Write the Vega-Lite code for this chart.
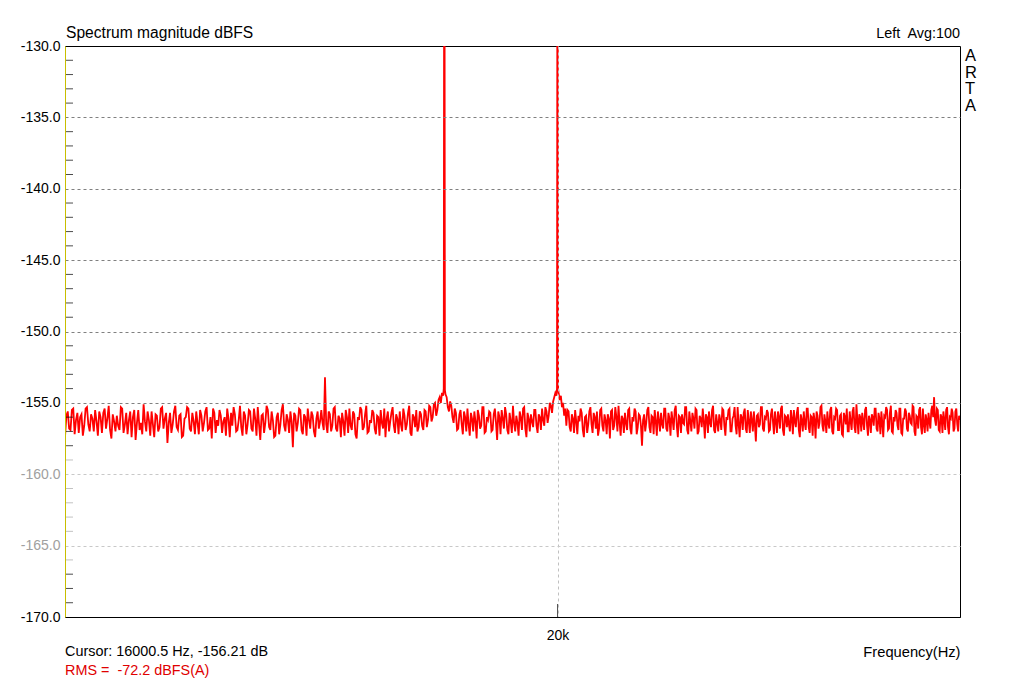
{
"$schema": "https://vega.github.io/schema/vega-lite/v6.json",
"width": 895, "height": 571,
"autosize": "none",
"padding": {"left": 65, "top": 46, "right": 64, "bottom": 63},
"background": "white",
"config": {"view": {"stroke": "black", "strokeWidth": 1}, "font": "Liberation Sans"},
"datasets": {
"spec": [
{"f":16000,"d":-157.4},{"f":16010,"d":-155.9},{"f":16020,"d":-155.6},{"f":16030,"d":-156.8},{"f":16040,"d":-156.9},{"f":16050,"d":-155.5},{"f":16060,"d":-155.4},{"f":16070,"d":-157.2},{"f":16080,"d":-156.2},{"f":16090,"d":-155.7},
{"f":16100,"d":-157.1},{"f":16110,"d":-156.0},{"f":16120,"d":-155.8},{"f":16130,"d":-157.3},{"f":16140,"d":-156.6},{"f":16150,"d":-155.4},{"f":16160,"d":-155.3},{"f":16170,"d":-156.5},{"f":16180,"d":-157.0},{"f":16190,"d":-155.8},
{"f":16200,"d":-156.1},{"f":16210,"d":-157.0},{"f":16220,"d":-155.5},{"f":16230,"d":-156.3},{"f":16240,"d":-157.3},{"f":16250,"d":-155.6},{"f":16260,"d":-156.0},{"f":16270,"d":-157.1},{"f":16280,"d":-155.7},{"f":16290,"d":-155.4},
{"f":16300,"d":-156.8},{"f":16310,"d":-156.1},{"f":16320,"d":-155.2},{"f":16330,"d":-156.9},{"f":16340,"d":-157.5},{"f":16350,"d":-155.8},{"f":16360,"d":-156.3},{"f":16370,"d":-157.0},{"f":16380,"d":-155.9},{"f":16390,"d":-156.6},
{"f":16400,"d":-156.9},{"f":16410,"d":-155.3},{"f":16420,"d":-155.4},{"f":16430,"d":-157.1},{"f":16440,"d":-156.5},{"f":16450,"d":-155.7},{"f":16460,"d":-157.2},{"f":16470,"d":-156.2},{"f":16480,"d":-155.6},{"f":16490,"d":-157.4},
{"f":16500,"d":-156.0},{"f":16510,"d":-155.5},{"f":16520,"d":-157.6},{"f":16530,"d":-156.4},{"f":16540,"d":-155.5},{"f":16550,"d":-156.9},{"f":16560,"d":-156.4},{"f":16570,"d":-157.2},{"f":16580,"d":-155.1},{"f":16590,"d":-156.3},
{"f":16600,"d":-157.0},{"f":16610,"d":-155.6},{"f":16620,"d":-156.2},{"f":16630,"d":-157.3},{"f":16640,"d":-155.6},{"f":16650,"d":-156.5},{"f":16660,"d":-157.4},{"f":16670,"d":-155.8},{"f":16680,"d":-155.9},{"f":16690,"d":-157.0},
{"f":16700,"d":-156.7},{"f":16710,"d":-155.4},{"f":16720,"d":-155.3},{"f":16730,"d":-156.8},{"f":16740,"d":-156.1},{"f":16750,"d":-155.7},{"f":16760,"d":-157.8},{"f":16770,"d":-156.4},{"f":16780,"d":-155.7},{"f":16790,"d":-157.1},
{"f":16800,"d":-156.5},{"f":16810,"d":-155.6},{"f":16820,"d":-155.2},{"f":16830,"d":-156.7},{"f":16840,"d":-156.9},{"f":16850,"d":-155.9},{"f":16860,"d":-155.8},{"f":16870,"d":-157.4},{"f":16880,"d":-157.3},{"f":16890,"d":-156.1},
{"f":16900,"d":-156.0},{"f":16910,"d":-155.3},{"f":16920,"d":-155.4},{"f":16930,"d":-156.8},{"f":16940,"d":-157.0},{"f":16950,"d":-155.7},{"f":16960,"d":-156.3},{"f":16970,"d":-157.2},{"f":16980,"d":-155.6},{"f":16990,"d":-156.4},
{"f":17000,"d":-157.2},{"f":17010,"d":-155.5},{"f":17020,"d":-155.9},{"f":17030,"d":-157.0},{"f":17040,"d":-156.4},{"f":17050,"d":-155.6},{"f":17060,"d":-155.3},{"f":17070,"d":-156.9},{"f":17080,"d":-156.8},{"f":17090,"d":-156.0},
{"f":17100,"d":-157.5},{"f":17110,"d":-155.4},{"f":17120,"d":-155.7},{"f":17130,"d":-157.1},{"f":17140,"d":-156.2},{"f":17150,"d":-156.6},{"f":17160,"d":-155.5},{"f":17170,"d":-155.9},{"f":17180,"d":-157.1},{"f":17190,"d":-156.3},
{"f":17200,"d":-156.0},{"f":17210,"d":-157.3},{"f":17220,"d":-155.4},{"f":17230,"d":-156.1},{"f":17240,"d":-157.4},{"f":17250,"d":-155.7},{"f":17260,"d":-156.6},{"f":17270,"d":-155.3},{"f":17280,"d":-155.8},{"f":17290,"d":-157.0},
{"f":17300,"d":-156.9},{"f":17310,"d":-156.2},{"f":17320,"d":-155.2},{"f":17330,"d":-156.7},{"f":17340,"d":-157.3},{"f":17350,"d":-155.6},{"f":17360,"d":-155.9},{"f":17370,"d":-157.2},{"f":17380,"d":-156.5},{"f":17390,"d":-155.5},
{"f":17400,"d":-155.6},{"f":17410,"d":-156.8},{"f":17420,"d":-157.0},{"f":17430,"d":-155.4},{"f":17440,"d":-156.1},{"f":17450,"d":-157.3},{"f":17460,"d":-155.3},{"f":17470,"d":-156.5},{"f":17480,"d":-157.6},{"f":17490,"d":-155.9},
{"f":17500,"d":-155.8},{"f":17510,"d":-157.1},{"f":17520,"d":-156.4},{"f":17530,"d":-155.2},{"f":17540,"d":-155.5},{"f":17550,"d":-156.7},{"f":17560,"d":-156.9},{"f":17570,"d":-155.6},{"f":17580,"d":-156.2},{"f":17590,"d":-157.4},
{"f":17600,"d":-157.3},{"f":17610,"d":-156.0},{"f":17620,"d":-155.7},{"f":17630,"d":-157.2},{"f":17640,"d":-156.5},{"f":17650,"d":-155.5},{"f":17660,"d":-155.1},{"f":17670,"d":-156.6},{"f":17680,"d":-157.0},{"f":17690,"d":-155.8},
{"f":17700,"d":-156.2},{"f":17710,"d":-157.1},{"f":17720,"d":-155.6},{"f":17730,"d":-156.3},{"f":17740,"d":-158.1},{"f":17750,"d":-155.7},{"f":17760,"d":-155.9},{"f":17770,"d":-157.0},{"f":17780,"d":-156.4},{"f":17790,"d":-155.4},
{"f":17800,"d":-155.5},{"f":17810,"d":-156.9},{"f":17820,"d":-157.2},{"f":17830,"d":-155.8},{"f":17840,"d":-156.0},{"f":17850,"d":-157.3},{"f":17860,"d":-155.4},{"f":17870,"d":-156.2},{"f":17880,"d":-156.8},{"f":17890,"d":-155.6},
{"f":17900,"d":-155.9},{"f":17910,"d":-157.0},{"f":17920,"d":-157.4},{"f":17930,"d":-156.1},{"f":17940,"d":-155.6},{"f":17950,"d":-156.8},{"f":17960,"d":-156.3},{"f":17970,"d":-155.5},{"f":17980,"d":-156.4},{"f":17990,"d":-156.9},
{"f":18000,"d":-153.2},{"f":18010,"d":-156.5},{"f":18020,"d":-157.1},{"f":18030,"d":-155.6},{"f":18040,"d":-155.8},{"f":18050,"d":-157.0},{"f":18060,"d":-156.6},{"f":18070,"d":-155.4},{"f":18080,"d":-155.3},{"f":18090,"d":-156.8},
{"f":18100,"d":-157.0},{"f":18110,"d":-155.9},{"f":18120,"d":-156.1},{"f":18130,"d":-157.4},{"f":18140,"d":-155.7},{"f":18150,"d":-156.3},{"f":18160,"d":-157.3},{"f":18170,"d":-155.5},{"f":18180,"d":-156.0},{"f":18190,"d":-157.1},
{"f":18200,"d":-155.4},{"f":18210,"d":-156.6},{"f":18220,"d":-156.9},{"f":18230,"d":-155.6},{"f":18240,"d":-155.8},{"f":18250,"d":-157.2},{"f":18260,"d":-157.5},{"f":18270,"d":-156.0},{"f":18280,"d":-156.2},{"f":18290,"d":-155.3},
{"f":18300,"d":-155.5},{"f":18310,"d":-156.9},{"f":18320,"d":-156.7},{"f":18330,"d":-155.8},{"f":18340,"d":-155.2},{"f":18350,"d":-157.1},{"f":18360,"d":-157.0},{"f":18370,"d":-156.2},{"f":18380,"d":-156.4},{"f":18390,"d":-155.5},
{"f":18400,"d":-155.7},{"f":18410,"d":-156.8},{"f":18420,"d":-157.2},{"f":18430,"d":-155.9},{"f":18440,"d":-156.0},{"f":18450,"d":-157.3},{"f":18460,"d":-155.5},{"f":18470,"d":-156.4},{"f":18480,"d":-156.8},{"f":18490,"d":-155.4},
{"f":18500,"d":-157.4},{"f":18510,"d":-156.1},{"f":18520,"d":-155.6},{"f":18530,"d":-157.0},{"f":18540,"d":-156.3},{"f":18550,"d":-155.7},{"f":18560,"d":-155.3},{"f":18570,"d":-156.6},{"f":18580,"d":-157.1},{"f":18590,"d":-155.8},
{"f":18600,"d":-156.1},{"f":18610,"d":-157.2},{"f":18620,"d":-155.6},{"f":18630,"d":-156.5},{"f":18640,"d":-157.0},{"f":18650,"d":-155.4},{"f":18660,"d":-155.9},{"f":18670,"d":-156.9},{"f":18680,"d":-156.5},{"f":18690,"d":-155.7},
{"f":18700,"d":-155.2},{"f":18710,"d":-157.1},{"f":18720,"d":-157.3},{"f":18730,"d":-155.8},{"f":18740,"d":-156.0},{"f":18750,"d":-156.7},{"f":18760,"d":-155.5},{"f":18770,"d":-157.0},{"f":18780,"d":-156.7},{"f":18790,"d":-155.6},
{"f":18800,"d":-155.8},{"f":18810,"d":-156.6},{"f":18820,"d":-156.9},{"f":18830,"d":-155.5},{"f":18840,"d":-155.6},{"f":18850,"d":-156.7},{"f":18860,"d":-156.2},{"f":18870,"d":-155.2},{"f":18880,"d":-155.3},{"f":18890,"d":-156.3},
{"f":18900,"d":-156.0},{"f":18910,"d":-155.1},{"f":18920,"d":-155.0},{"f":18930,"d":-155.9},{"f":18940,"d":-155.5},{"f":18950,"d":-154.8},{"f":18960,"d":-154.6},{"f":18970,"d":-155.0},{"f":18980,"d":-154.3},{"f":18990,"d":-154.5},
{"f":18995,"d":-154.0},{"f":19000,"d":-108.0},{"f":19005,"d":-154.1},
{"f":19010,"d":-154.4},{"f":19020,"d":-154.6},{"f":19030,"d":-155.3},{"f":19040,"d":-155.6},{"f":19050,"d":-154.9},{"f":19060,"d":-155.2},{"f":19070,"d":-156.0},{"f":19080,"d":-156.4},{"f":19090,"d":-155.4},
{"f":19100,"d":-155.7},{"f":19110,"d":-156.9},{"f":19120,"d":-156.8},{"f":19130,"d":-155.8},{"f":19140,"d":-155.5},{"f":19150,"d":-156.5},{"f":19160,"d":-157.2},{"f":19170,"d":-155.6},{"f":19180,"d":-156.0},{"f":19190,"d":-157.0},
{"f":19200,"d":-155.4},{"f":19210,"d":-156.5},{"f":19220,"d":-157.3},{"f":19230,"d":-155.7},{"f":19240,"d":-156.1},{"f":19250,"d":-157.0},{"f":19260,"d":-155.6},{"f":19270,"d":-156.3},{"f":19280,"d":-157.5},{"f":19290,"d":-155.5},
{"f":19300,"d":-155.9},{"f":19310,"d":-156.8},{"f":19320,"d":-156.6},{"f":19330,"d":-155.3},{"f":19340,"d":-155.3},{"f":19350,"d":-157.1},{"f":19360,"d":-157.0},{"f":19370,"d":-156.0},{"f":19380,"d":-156.2},{"f":19390,"d":-155.6},
{"f":19400,"d":-155.7},{"f":19410,"d":-157.0},{"f":19420,"d":-156.9},{"f":19430,"d":-155.8},{"f":19440,"d":-155.4},{"f":19450,"d":-156.4},{"f":19460,"d":-157.6},{"f":19470,"d":-155.6},{"f":19480,"d":-156.0},{"f":19490,"d":-157.2},
{"f":19500,"d":-155.5},{"f":19510,"d":-156.1},{"f":19520,"d":-156.8},{"f":19530,"d":-155.3},{"f":19540,"d":-155.8},{"f":19550,"d":-156.9},{"f":19560,"d":-157.2},{"f":19570,"d":-155.7},{"f":19580,"d":-156.3},{"f":19590,"d":-157.1},
{"f":19600,"d":-155.2},{"f":19610,"d":-156.4},{"f":19620,"d":-157.0},{"f":19630,"d":-155.9},{"f":19640,"d":-156.4},{"f":19650,"d":-157.3},{"f":19660,"d":-155.6},{"f":19670,"d":-156.0},{"f":19680,"d":-156.9},{"f":19690,"d":-155.4},
{"f":19700,"d":-155.3},{"f":19710,"d":-156.8},{"f":19720,"d":-157.4},{"f":19730,"d":-155.7},{"f":19740,"d":-156.1},{"f":19750,"d":-157.0},{"f":19760,"d":-155.8},{"f":19770,"d":-156.3},{"f":19780,"d":-156.7},{"f":19790,"d":-155.5},
{"f":19800,"d":-155.5},{"f":19810,"d":-156.6},{"f":19820,"d":-157.1},{"f":19830,"d":-155.8},{"f":19840,"d":-156.0},{"f":19850,"d":-156.9},{"f":19860,"d":-155.4},{"f":19870,"d":-156.2},{"f":19880,"d":-156.6},{"f":19890,"d":-155.3},
{"f":19900,"d":-155.6},{"f":19910,"d":-156.4},{"f":19920,"d":-155.9},{"f":19930,"d":-155.0},{"f":19940,"d":-155.2},{"f":19950,"d":-155.7},{"f":19960,"d":-154.9},{"f":19970,"d":-154.6},{"f":19980,"d":-154.3},{"f":19990,"d":-154.5},
{"f":19995,"d":-154.0},{"f":20000,"d":-108.0},{"f":20005,"d":-154.0},
{"f":20010,"d":-154.3},{"f":20020,"d":-154.8},{"f":20030,"d":-154.5},{"f":20040,"d":-155.3},{"f":20050,"d":-155.0},{"f":20060,"d":-155.9},{"f":20070,"d":-155.4},{"f":20080,"d":-156.6},{"f":20090,"d":-155.5},
{"f":20100,"d":-155.6},{"f":20110,"d":-156.7},{"f":20120,"d":-157.0},{"f":20130,"d":-155.8},{"f":20140,"d":-156.1},{"f":20150,"d":-157.1},{"f":20160,"d":-155.5},{"f":20170,"d":-156.3},{"f":20180,"d":-157.2},{"f":20190,"d":-155.9},
{"f":20200,"d":-156.3},{"f":20210,"d":-155.4},{"f":20220,"d":-155.7},{"f":20230,"d":-156.9},{"f":20240,"d":-157.4},{"f":20250,"d":-156.0},{"f":20260,"d":-155.9},{"f":20270,"d":-157.1},{"f":20280,"d":-156.5},{"f":20290,"d":-155.6},
{"f":20300,"d":-155.3},{"f":20310,"d":-156.5},{"f":20320,"d":-157.1},{"f":20330,"d":-155.7},{"f":20340,"d":-156.0},{"f":20350,"d":-156.8},{"f":20360,"d":-155.6},{"f":20370,"d":-157.3},{"f":20380,"d":-156.8},{"f":20390,"d":-155.5},
{"f":20400,"d":-155.4},{"f":20410,"d":-156.6},{"f":20420,"d":-157.0},{"f":20430,"d":-155.8},{"f":20440,"d":-156.2},{"f":20450,"d":-157.2},{"f":20460,"d":-155.8},{"f":20470,"d":-156.1},{"f":20480,"d":-157.5},{"f":20490,"d":-155.6},
{"f":20500,"d":-155.5},{"f":20510,"d":-156.9},{"f":20520,"d":-156.6},{"f":20530,"d":-155.3},{"f":20540,"d":-156.0},{"f":20550,"d":-157.0},{"f":20560,"d":-155.2},{"f":20570,"d":-156.4},{"f":20580,"d":-157.3},{"f":20590,"d":-155.9},
{"f":20600,"d":-156.1},{"f":20610,"d":-157.1},{"f":20620,"d":-155.7},{"f":20630,"d":-156.4},{"f":20640,"d":-156.9},{"f":20650,"d":-155.5},{"f":20660,"d":-155.4},{"f":20670,"d":-156.8},{"f":20680,"d":-157.2},{"f":20690,"d":-156.0},
{"f":20700,"d":-156.3},{"f":20710,"d":-155.4},{"f":20720,"d":-155.6},{"f":20730,"d":-157.2},{"f":20740,"d":-156.7},{"f":20750,"d":-155.8},{"f":20760,"d":-155.9},{"f":20770,"d":-156.6},{"f":20780,"d":-158.0},{"f":20790,"d":-156.2},
{"f":20800,"d":-155.8},{"f":20810,"d":-157.0},{"f":20820,"d":-156.4},{"f":20830,"d":-155.5},{"f":20840,"d":-155.3},{"f":20850,"d":-156.7},{"f":20860,"d":-157.1},{"f":20870,"d":-155.9},{"f":20880,"d":-156.0},{"f":20890,"d":-157.2},
{"f":20900,"d":-155.5},{"f":20910,"d":-156.3},{"f":20920,"d":-157.3},{"f":20930,"d":-155.6},{"f":20940,"d":-156.2},{"f":20950,"d":-157.0},{"f":20960,"d":-155.7},{"f":20970,"d":-156.5},{"f":20980,"d":-156.8},{"f":20990,"d":-155.4},
{"f":21000,"d":-155.4},{"f":21010,"d":-156.8},{"f":21020,"d":-157.0},{"f":21030,"d":-155.7},{"f":21040,"d":-156.1},{"f":21050,"d":-157.3},{"f":21060,"d":-155.6},{"f":21070,"d":-156.2},{"f":21080,"d":-156.9},{"f":21090,"d":-155.5},
{"f":21100,"d":-155.2},{"f":21110,"d":-156.6},{"f":21120,"d":-157.4},{"f":21130,"d":-155.9},{"f":21140,"d":-156.0},{"f":21150,"d":-157.1},{"f":21160,"d":-155.8},{"f":21170,"d":-156.4},{"f":21180,"d":-156.5},{"f":21190,"d":-155.3},
{"f":21200,"d":-155.3},{"f":21210,"d":-156.9},{"f":21220,"d":-157.2},{"f":21230,"d":-155.6},{"f":21240,"d":-156.3},{"f":21250,"d":-157.0},{"f":21260,"d":-155.7},{"f":21270,"d":-156.1},{"f":21280,"d":-156.8},{"f":21290,"d":-155.4},
{"f":21300,"d":-155.5},{"f":21310,"d":-157.2},{"f":21320,"d":-157.0},{"f":21330,"d":-155.9},{"f":21340,"d":-156.1},{"f":21350,"d":-156.7},{"f":21360,"d":-155.4},{"f":21370,"d":-156.3},{"f":21380,"d":-157.5},{"f":21390,"d":-155.8},
{"f":21400,"d":-156.0},{"f":21410,"d":-157.1},{"f":21420,"d":-155.6},{"f":21430,"d":-156.4},{"f":21440,"d":-156.7},{"f":21450,"d":-155.5},{"f":21460,"d":-155.2},{"f":21470,"d":-156.9},{"f":21480,"d":-157.1},{"f":21490,"d":-155.8},
{"f":21500,"d":-156.4},{"f":21510,"d":-157.0},{"f":21520,"d":-155.8},{"f":21530,"d":-156.2},{"f":21540,"d":-156.9},{"f":21550,"d":-155.4},{"f":21560,"d":-155.5},{"f":21570,"d":-156.6},{"f":21580,"d":-157.3},{"f":21590,"d":-156.0},
{"f":21600,"d":-156.2},{"f":21610,"d":-155.5},{"f":21620,"d":-155.4},{"f":21630,"d":-157.0},{"f":21640,"d":-157.0},{"f":21650,"d":-156.1},{"f":21660,"d":-155.9},{"f":21670,"d":-155.3},{"f":21680,"d":-156.6},{"f":21690,"d":-157.2},
{"f":21700,"d":-155.3},{"f":21710,"d":-156.5},{"f":21720,"d":-157.4},{"f":21730,"d":-155.8},{"f":21740,"d":-156.0},{"f":21750,"d":-156.9},{"f":21760,"d":-155.7},{"f":21770,"d":-155.4},{"f":21780,"d":-156.8},{"f":21790,"d":-157.1},
{"f":21800,"d":-155.5},{"f":21810,"d":-156.3},{"f":21820,"d":-157.1},{"f":21830,"d":-155.6},{"f":21840,"d":-156.2},{"f":21850,"d":-157.0},{"f":21860,"d":-155.6},{"f":21870,"d":-156.5},{"f":21880,"d":-157.7},{"f":21890,"d":-155.9},
{"f":21900,"d":-155.8},{"f":21910,"d":-156.7},{"f":21920,"d":-156.5},{"f":21930,"d":-155.3},{"f":21940,"d":-155.3},{"f":21950,"d":-156.8},{"f":21960,"d":-157.0},{"f":21970,"d":-156.0},{"f":21980,"d":-156.1},{"f":21990,"d":-155.5},
{"f":22000,"d":-155.7},{"f":22010,"d":-157.0},{"f":22020,"d":-156.9},{"f":22030,"d":-155.8},{"f":22040,"d":-155.4},{"f":22050,"d":-156.3},{"f":22060,"d":-157.2},{"f":22070,"d":-155.6},{"f":22080,"d":-156.3},{"f":22090,"d":-157.1},
{"f":22100,"d":-155.6},{"f":22110,"d":-156.0},{"f":22120,"d":-156.8},{"f":22130,"d":-155.4},{"f":22140,"d":-155.2},{"f":22150,"d":-156.9},{"f":22160,"d":-157.3},{"f":22170,"d":-155.9},{"f":22180,"d":-156.0},{"f":22190,"d":-156.7},
{"f":22200,"d":-155.8},{"f":22210,"d":-156.5},{"f":22220,"d":-157.0},{"f":22230,"d":-155.5},{"f":22240,"d":-156.1},{"f":22250,"d":-157.2},{"f":22260,"d":-155.5},{"f":22270,"d":-156.3},{"f":22280,"d":-156.7},{"f":22290,"d":-155.7},
{"f":22300,"d":-155.3},{"f":22310,"d":-156.9},{"f":22320,"d":-157.4},{"f":22330,"d":-155.8},{"f":22340,"d":-156.2},{"f":22350,"d":-157.0},{"f":22360,"d":-155.6},{"f":22370,"d":-156.4},{"f":22380,"d":-156.9},{"f":22390,"d":-155.4},
{"f":22400,"d":-155.4},{"f":22410,"d":-156.7},{"f":22420,"d":-157.1},{"f":22430,"d":-155.9},{"f":22440,"d":-156.0},{"f":22450,"d":-157.3},{"f":22460,"d":-155.7},{"f":22470,"d":-156.2},{"f":22480,"d":-157.5},{"f":22490,"d":-155.6},
{"f":22500,"d":-155.9},{"f":22510,"d":-156.8},{"f":22520,"d":-156.4},{"f":22530,"d":-155.3},{"f":22540,"d":-155.2},{"f":22550,"d":-156.6},{"f":22560,"d":-157.0},{"f":22570,"d":-155.8},{"f":22580,"d":-156.3},{"f":22590,"d":-157.1},
{"f":22600,"d":-155.6},{"f":22610,"d":-156.4},{"f":22620,"d":-156.8},{"f":22630,"d":-155.5},{"f":22640,"d":-155.3},{"f":22650,"d":-157.0},{"f":22660,"d":-157.2},{"f":22670,"d":-156.0},{"f":22680,"d":-156.1},{"f":22690,"d":-155.4},
{"f":22700,"d":-155.5},{"f":22710,"d":-156.9},{"f":22720,"d":-156.9},{"f":22730,"d":-155.9},{"f":22740,"d":-155.8},{"f":22750,"d":-157.2},{"f":22760,"d":-157.3},{"f":22770,"d":-155.7},{"f":22780,"d":-156.0},{"f":22790,"d":-156.5},
{"f":22800,"d":-155.4},{"f":22810,"d":-157.0},{"f":22820,"d":-157.0},{"f":22830,"d":-155.6},{"f":22840,"d":-156.3},{"f":22850,"d":-156.9},{"f":22860,"d":-155.6},{"f":22870,"d":-155.3},{"f":22880,"d":-156.7},{"f":22890,"d":-157.1},
{"f":22900,"d":-155.1},{"f":22910,"d":-156.2},{"f":22920,"d":-157.2},{"f":22930,"d":-155.8},{"f":22940,"d":-156.0},{"f":22950,"d":-157.0},{"f":22960,"d":-155.7},{"f":22970,"d":-156.3},{"f":22980,"d":-156.9},{"f":22990,"d":-155.5},
{"f":23000,"d":-155.3},{"f":23010,"d":-156.6},{"f":23020,"d":-157.3},{"f":23030,"d":-155.9},{"f":23040,"d":-156.2},{"f":23050,"d":-157.1},{"f":23060,"d":-155.8},{"f":23070,"d":-156.0},{"f":23080,"d":-156.6},{"f":23090,"d":-155.4},
{"f":23100,"d":-155.4},{"f":23110,"d":-156.8},{"f":23120,"d":-157.0},{"f":23130,"d":-155.7},{"f":23140,"d":-156.1},{"f":23150,"d":-157.2},{"f":23160,"d":-155.6},{"f":23170,"d":-156.4},{"f":23180,"d":-157.4},{"f":23190,"d":-155.9},
{"f":23200,"d":-156.0},{"f":23210,"d":-155.3},{"f":23220,"d":-155.5},{"f":23230,"d":-156.9},{"f":23240,"d":-156.8},{"f":23250,"d":-155.7},{"f":23260,"d":-155.2},{"f":23270,"d":-157.0},{"f":23280,"d":-157.1},{"f":23290,"d":-156.0},
{"f":23300,"d":-156.3},{"f":23310,"d":-155.5},{"f":23320,"d":-155.7},{"f":23330,"d":-156.6},{"f":23340,"d":-156.9},{"f":23350,"d":-155.4},{"f":23360,"d":-155.4},{"f":23370,"d":-157.1},{"f":23380,"d":-157.2},{"f":23390,"d":-156.1},
{"f":23400,"d":-156.1},{"f":23410,"d":-155.4},{"f":23420,"d":-155.6},{"f":23430,"d":-156.8},{"f":23440,"d":-157.0},{"f":23450,"d":-155.7},{"f":23460,"d":-155.9},{"f":23470,"d":-156.4},{"f":23480,"d":-156.5},{"f":23490,"d":-155.2},
{"f":23500,"d":-155.3},{"f":23510,"d":-157.0},{"f":23520,"d":-157.3},{"f":23530,"d":-155.9},{"f":23540,"d":-156.0},{"f":23550,"d":-156.8},{"f":23560,"d":-155.5},{"f":23570,"d":-155.3},{"f":23580,"d":-156.7},{"f":23590,"d":-157.2},
{"f":23600,"d":-155.4},{"f":23610,"d":-156.5},{"f":23620,"d":-157.1},{"f":23630,"d":-155.8},{"f":23640,"d":-156.2},{"f":23650,"d":-157.0},{"f":23660,"d":-155.7},{"f":23670,"d":-156.3},{"f":23680,"d":-156.8},{"f":23690,"d":-155.5},
{"f":23700,"d":-155.2},{"f":23710,"d":-156.0},{"f":23720,"d":-154.6},{"f":23730,"d":-156.2},{"f":23740,"d":-156.6},{"f":23750,"d":-155.4},{"f":23760,"d":-155.5},{"f":23770,"d":-156.9},{"f":23780,"d":-157.0},{"f":23790,"d":-155.8},
{"f":23800,"d":-156.0},{"f":23810,"d":-157.1},{"f":23820,"d":-155.6},{"f":23830,"d":-156.2},{"f":23840,"d":-156.9},{"f":23850,"d":-155.5},{"f":23860,"d":-155.3},{"f":23870,"d":-156.7},{"f":23880,"d":-157.2},{"f":23890,"d":-156.0},
{"f":23900,"d":-156.1},{"f":23910,"d":-155.4},{"f":23920,"d":-155.7},{"f":23930,"d":-157.0},{"f":23940,"d":-156.8},{"f":23950,"d":-155.6},{"f":23960,"d":-155.4},{"f":23970,"d":-156.5},{"f":23980,"d":-157.0},{"f":23990,"d":-155.9},
{"f":24000,"d":-156.2}
],
"minor": [
{"v":-169},{"v":-168},{"v":-167},{"v":-166},{"v":-164},{"v":-163},{"v":-162},{"v":-161},{"v":-159},{"v":-158},{"v":-157},{"v":-156},{"v":-154},{"v":-153},{"v":-152},{"v":-151},{"v":-149},{"v":-148},{"v":-147},{"v":-146},{"v":-144},{"v":-143},{"v":-142},{"v":-141},{"v":-139},{"v":-138},{"v":-137},{"v":-136},{"v":-134},{"v":-133},{"v":-132},{"v":-131}
]
},
"layer": [
{
"data": {"name": "spec"},
"mark": {"type": "line", "color": "#ff0000", "strokeWidth": 1.8, "clip": true},
"encoding": {
"x": {"field": "f", "type": "quantitative",
"scale": {"type": "log", "domain": [16000, 24000], "nice": false, "zero": false},
"axis": {"values": [20000], "labelExpr": "'20k'", "ticks": false, "grid": true, "gridColor": "#c0c0c0", "gridDash": [3, 3], "domainColor": "black", "domainWidth": 1, "labelFont": "Liberation Sans", "labelFontSize": 14, "labelColor": "black", "labelPadding": 11, "labelFlush": false, "title": "Frequency(Hz)", "titleX": 895, "titleY": 39, "titleAlign": "right", "titleAnchor": "end", "titleBaseline": "alphabetic", "titleFont": "Liberation Sans", "titleFontWeight": "normal", "titleFontSize": 14.7, "titleColor": "black", "zindex": 1}},
"y": {"field": "d", "type": "quantitative",
"scale": {"domain": [-170, -130], "nice": false, "zero": false},
"axis": {"values": [-170, -165, -160, -155, -150, -145, -140, -135, -130], "labelExpr": "'-' + format(-datum.value, '.1f')", "ticks": false, "grid": true, "gridDash": [3, 3],
"gridColor": {"condition": {"test": "datum.value <= -160", "value": "#c8c8c8"}, "value": "#808080"},
"gridOpacity": {"condition": {"test": "datum.value == -130 || datum.value == -170", "value": 0}, "value": 1},
"labelColor": {"condition": {"test": "datum.value == -160 || datum.value == -165", "value": "#a0a0a0"}, "value": "black"},
"domainColor": "#c8be00", "domainWidth": 1, "labelFont": "Liberation Sans", "labelFontSize": 14, "labelPadding": 5, "labelFlush": false, "title": null, "zindex": 1}}
}
},
{
"data": {"name": "minor"},
"mark": {"type": "tick", "orient": "horizontal", "size": 16, "thickness": 1, "clip": true},
"encoding": {
"x": {"datum": 16000, "type": "quantitative"},
"y": {"field": "v", "type": "quantitative"},
"color": {"condition": {"test": "datum.v <= -159 && datum.v >= -166", "value": "#a8a8a8"}, "value": "black"}
}
},
{
"data": {"values": [{}]},
"mark": {"type": "tick", "orient": "vertical", "size": 26, "thickness": 1, "clip": true, "color": "black"},
"encoding": {"x": {"datum": 20000, "type": "quantitative"}, "y": {"datum": -170, "type": "quantitative"}}
},
{
"data": {"values": [{}]},
"mark": {"type": "text", "text": "Spectrum magnitude dBFS", "align": "left", "baseline": "alphabetic", "dx": 1, "dy": -8, "font": "Liberation Sans", "fontSize": 15.6, "color": "black"},
"encoding": {"x": {"datum": 16000, "type": "quantitative"}, "y": {"datum": -130, "type": "quantitative"}}
},
{
"data": {"values": [{}]},
"mark": {"type": "text", "text": "Left\u00a0 Avg:100", "align": "right", "baseline": "alphabetic", "dy": -8, "font": "Liberation Sans", "fontSize": 14.4, "color": "black"},
"encoding": {"x": {"datum": 24000, "type": "quantitative"}, "y": {"datum": -130, "type": "quantitative"}}
},
{
"data": {"values": [{}]},
"mark": {"type": "text", "text": "A\nR\nT\nA", "lineBreak": "\n", "align": "left", "baseline": "top", "dx": 5, "dy": 2, "lineHeight": 16.5, "font": "Liberation Sans", "fontSize": 16.5, "color": "black"},
"encoding": {"x": {"datum": 24000, "type": "quantitative"}, "y": {"datum": -130, "type": "quantitative"}}
},
{
"data": {"values": [{}]},
"mark": {"type": "text", "text": "Cursor: 16000.5 Hz, -156.21 dB", "align": "left", "baseline": "alphabetic", "dy": 39, "font": "Liberation Sans", "fontSize": 14.4, "color": "black"},
"encoding": {"x": {"datum": 16000, "type": "quantitative"}, "y": {"datum": -170, "type": "quantitative"}}
},
{
"data": {"values": [{}]},
"mark": {"type": "text", "text": "RMS =\u00a0 -72.2 dBFS(A)", "align": "left", "baseline": "alphabetic", "dy": 58, "font": "Liberation Sans", "fontSize": 14.4, "color": "#e00000"},
"encoding": {"x": {"datum": 16000, "type": "quantitative"}, "y": {"datum": -170, "type": "quantitative"}}
}
]
}
